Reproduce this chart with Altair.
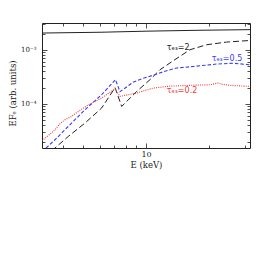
import altair as alt
import pandas as pd

# ---- data ----
energy_cont = [3.16, 6.01, 10.0, 18.18, 31.62]
flux_cont = [2.06e-3, 2.13e-3, 2.23e-3, 2.32e-3, 2.38e-3]

energy_t2 = [3.27, 4.23, 5.09, 6.12, 7.10, 7.64, 9.02, 10.45, 11.68, 13.53, 16.27, 19.58, 24.4, 31.62]
flux_t2 = [1.05e-5, 2.49e-5, 4.41e-5, 8.38e-5, 2.0e-4, 8.97e-5, 1.70e-4, 2.81e-4, 4.30e-4, 6.32e-4,
           1.01e-3, 1.25e-3, 1.40e-3, 1.50e-3]

energy_t05 = [3.16, 3.65, 4.23, 5.09, 6.12, 7.13, 7.50, 8.66, 9.70, 11.05, 12.34, 14.05, 16.88, 21.88, 26.29, 31.62]
flux_t05 = [1.29e-5, 2.16e-5, 3.82e-5, 7.79e-5, 1.48e-4, 2.81e-4, 1.68e-4, 2.52e-4, 2.99e-4, 3.48e-4,
            4.04e-4, 4.62e-4, 4.95e-4, 5.48e-4, 5.68e-4, 5.32e-4]

energy_t02 = [3.16, 3.38, 3.65, 3.86, 4.08, 4.36, 4.73, 5.28, 5.69, 6.12, 7.10, 7.50, 9.02, 10.84,
              13.04, 16.88, 20.31, 22.19, 23.2, 25.34, 31.62]
flux_t02 = [2.07e-5, 2.56e-5, 3.31e-5, 4.28e-5, 5.08e-5, 5.78e-5, 7.25e-5, 9.64e-5, 1.10e-4, 1.28e-4,
            1.9e-4, 1.38e-4, 1.59e-4, 1.97e-4, 2.13e-4, 2.22e-4, 2.26e-4, 2.44e-4, 2.31e-4, 2.20e-4, 2.11e-4]

label_text = ["τₑₛ=2", "τₑₛ=0.5", "τₑₛ=0.2"]
label_energy = [12.58, 20.7, 12.58]
label_flux = [1.09e-3, 6.88e-4, 1.70e-4]

x_ticks = [4, 5, 6, 7, 8, 9, 10, 20, 30]
y_ticks = [2e-5, 3e-5, 4e-5, 5e-5, 6e-5, 7e-5, 8e-5, 9e-5,
           1e-4, 2e-4, 3e-4, 4e-4, 5e-4, 6e-4, 7e-4, 8e-4, 9e-4,
           1e-3, 2e-3, 3e-3]

# ---- styling ----
W, H = 208, 125
FONT = "DejaVu Serif"
INK = "#222222"
label_colors = ["#222222", "#3b3bf0", "#f03b3b"]

xscale = alt.Scale(type="log", domain=[3.1623, 31.623], nice=False)
yscale = alt.Scale(type="log", domain=[1.52e-5, 3.162e-3], nice=False)

major = "abs(log(datum.value)/LN10 - round(log(datum.value)/LN10)) < 0.001"
tsize = {"condition": {"test": major, "value": 5}, "value": 3}

common = dict(grid=False, domain=False, labelFont=FONT, titleFont=FONT, labelColor=INK,
              titleColor=INK, tickColor=INK, tickWidth=0.8)

x_main = alt.Axis(orient="bottom", values=x_ticks, labelExpr="datum.value == 10 ? '10' : ''",
                  labelOverlap=False, ticks=False, labelPadding=2, labelFontSize=8,
                  title="E (keV)", titleFontSize=8.5, titleFontWeight="normal", titlePadding=2, **common)
x_in_bottom = alt.Axis(orient="top", offset=-H, values=x_ticks, labels=False, title="",
                       tickSize=tsize, **common)
x_in_top = alt.Axis(orient="bottom", offset=-H, values=x_ticks, labels=False, title="",
                    tickSize=tsize, **common)

y_main = alt.Axis(orient="left", values=y_ticks,
                  labelExpr="datum.value == 0.001 ? '10⁻³' : (datum.value == 0.0001 ? '10⁻⁴' : '')",
                  labelOverlap=False, ticks=False, labelPadding=6, labelFontSize=7,
                  title="EFₑ (arb. units)", titleFontSize=8.5, titleFontWeight="normal",
                  titleX=-25, titleY=70, **common)
y_in_left = alt.Axis(orient="right", offset=-W, values=y_ticks, labels=False, title="",
                     tickSize=tsize, **common)
y_in_right = alt.Axis(orient="left", offset=-W, values=y_ticks, labels=False, title="",
                      tickSize=tsize, **common)

df_cont = pd.DataFrame({"E": energy_cont, "F": flux_cont})
df_t2 = pd.DataFrame({"E": energy_t2, "F": flux_t2})
df_t05 = pd.DataFrame({"E": energy_t05, "F": flux_t05})
df_t02 = pd.DataFrame({"E": energy_t02, "F": flux_t02})
df_lab = pd.DataFrame({"label": label_text, "E": label_energy, "F": label_flux})

cont = alt.Chart(df_cont).mark_line(color=INK, strokeWidth=1, clip=True).encode(
    x=alt.X("E:Q", scale=xscale, axis=x_main),
    y=alt.Y("F:Q", scale=yscale, axis=y_main),
)
t2 = alt.Chart(df_t2).mark_line(color=INK, strokeWidth=1, strokeDash=[6, 3], clip=True).encode(
    x=alt.X("E:Q", scale=xscale, axis=x_in_bottom),
    y=alt.Y("F:Q", scale=yscale, axis=y_in_left),
)
t05 = alt.Chart(df_t05).mark_line(color="#3b3bf0", strokeWidth=1.1, strokeDash=[3.5, 2], clip=True).encode(
    x=alt.X("E:Q", scale=xscale, axis=x_in_top),
    y=alt.Y("F:Q", scale=yscale, axis=y_in_right),
)
t02 = alt.Chart(df_t02).mark_line(color="#f03b3b", strokeWidth=1.1, strokeDash=[1, 1.2], clip=True).encode(
    x=alt.X("E:Q", scale=xscale, axis=None),
    y=alt.Y("F:Q", scale=yscale, axis=None),
)
labels = alt.Chart(df_lab).mark_text(align="left", baseline="middle", fontSize=8, font="DejaVu Sans").encode(
    x=alt.X("E:Q", scale=xscale, axis=None),
    y=alt.Y("F:Q", scale=yscale, axis=None),
    text="label:N",
    color=alt.Color("label:N", scale=alt.Scale(domain=label_text, range=label_colors), legend=None),
)

chart = alt.layer(cont, t2, t05, t02, labels).resolve_axis(
    x="independent", y="independent"
).properties(
    width=W, height=H,
    autosize=alt.AutoSizeParams(type="none"),
    padding={"left": 34, "top": 15, "right": 15, "bottom": 40},
).configure_view(stroke=INK, strokeWidth=1)

chart.save("out.html", embed_options={"renderer": "svg", "actions": False})
